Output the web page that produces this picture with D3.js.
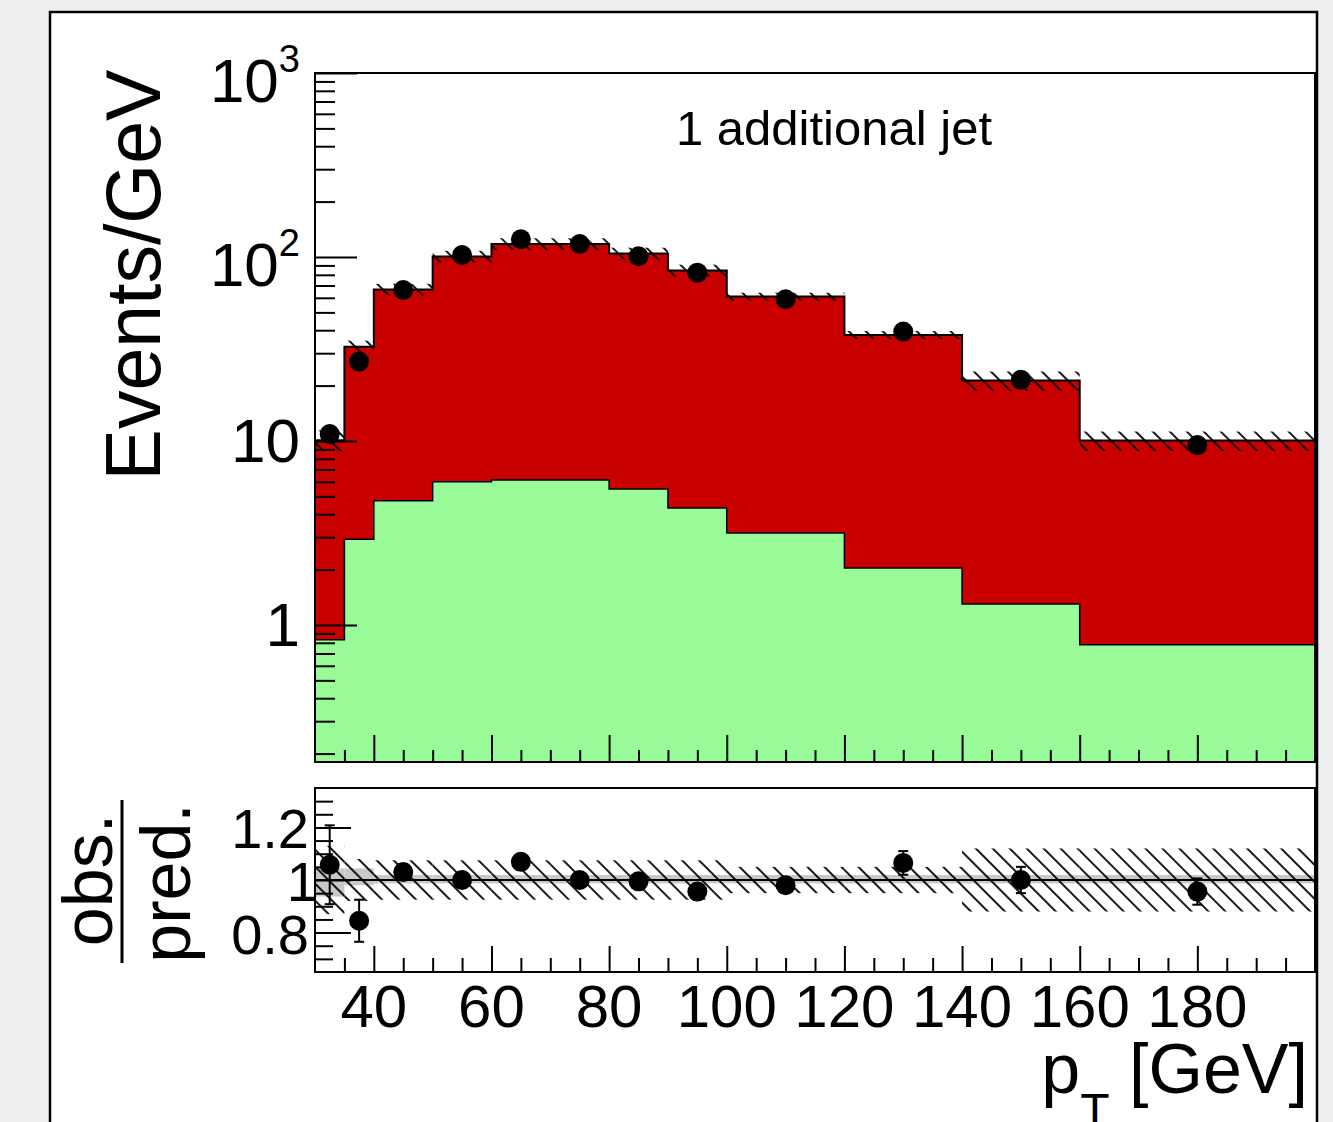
<!DOCTYPE html>
<html><head><meta charset="utf-8">
<script src="https://cdn.jsdelivr.net/npm/d3@7"></script>
<style>
body{margin:0;background:#edeff1;}
svg{display:block;font-family:"Liberation Sans",Arial,Helvetica,sans-serif;}
</style>
</head><body>
<svg id="c" width="1333" height="1122"></svg>
<script>
// ---------------- data ----------------
const binEdges    = [30,35,40,50,60,70,80,90,100,120,140,160,200];
const totalPred   = [10.1,32.5,66.5,100.5,117.6,117.6,104.5,84.5,60.9,37.7,21.3,10.05];
const greenPred   = [0.83,2.92,4.74,6.01,6.14,6.14,5.48,4.32,3.16,2.04,1.30,0.78];
const dataCenters = [32.5,37.5,45,55,65,75,85,95,110,130,150,180];
const dataValues  = [10.9,27.0,66.2,102.5,124.8,117.6,101.0,82.2,58.9,39.3,21.5,9.5];
const ratioValues = [1.058,0.845,1.03,1.0,1.069,1.0,0.995,0.956,0.98,1.065,1.0,0.956];
const ratioErrors = [0.15,0.08,0.03,0.02,0.02,0.02,0.02,0.025,0.025,0.045,0.05,0.05];
const predUnc     = [0.13,0.08,0.075,0.075,0.075,0.075,0.075,0.075,0.05,0.05,0.12,0.12];
const grayLo      = [0.937,0.98,0.987,0.987,0.987,0.987,0.987,0.987,0.987,0.987,0.987,0.987];
const grayHi      = [1.044,1.044,1.019,1.019,1.019,1.019,1.019,1.019,1.019,1.019,1.019,1.019];
const xTickLabels = [40,60,80,100,120,140,160,180];
const yTickLabels = [{v:1000,b:"10",e:"3"},{v:100,b:"10",e:"2"},{v:10,b:"10",e:""},{v:1,b:"1",e:""}];
const ratioTickLabels = [1.2,1,0.8];
const titleText = "1 additional jet";

// ---------------- layout ----------------
const L = 315, R = 1315, T1 = 73, B1 = 762, T2 = 788, B2 = 972;
const svg = d3.select("#c");
const x  = d3.scaleLinear().domain([30,200]).range([L,R]);
const y  = d3.scaleLog().domain([0.18,1000]).range([B1,T1]);
const yr = d3.scaleLinear().domain([0.65,1.35]).range([B2,T2]);

const defs = svg.append("defs");
const pat = defs.append("pattern").attr("id","hatch").attr("patternUnits","userSpaceOnUse")
  .attr("width",12).attr("height",12).attr("patternTransform","rotate(-45)");
pat.append("line").attr("x1",6).attr("y1",-1).attr("x2",6).attr("y2",13)
  .attr("stroke","#000").attr("stroke-width",1.8);
defs.append("clipPath").attr("id","clip1").append("rect").attr("x",L).attr("y",T1).attr("width",R-L).attr("height",B1-T1);
defs.append("clipPath").attr("id","clip2").append("rect").attr("x",L).attr("y",T2).attr("width",R-L).attr("height",B2-T2);

// panel
svg.append("rect").attr("x",50).attr("y",12).attr("width",1267).attr("height",1140)
  .attr("fill","#fff").attr("stroke","#000").attr("stroke-width",2.5);

const bins = totalPred.map((v,i)=>({x0:binEdges[i],x1:binEdges[i+1],tot:v,grn:greenPred[i],unc:predUnc[i],glo:grayLo[i],ghi:grayHi[i]}));

// ---------------- main plot ----------------
const g1 = svg.append("g").attr("clip-path","url(#clip1)");
g1.selectAll("rect.red").data(bins).join("rect").attr("class","red")
  .attr("x",d=>x(d.x0)).attr("width",d=>x(d.x1)-x(d.x0))
  .attr("y",d=>y(d.tot)).attr("height",d=>B1-y(d.tot)).attr("fill","#c80000")
  .attr("shape-rendering","crispEdges");
g1.selectAll("rect.grn").data(bins).join("rect").attr("class","grn")
  .attr("x",d=>x(d.x0)).attr("width",d=>x(d.x1)-x(d.x0))
  .attr("y",d=>y(d.grn)).attr("height",d=>B1-y(d.grn)).attr("fill","#98fb98")
  .attr("shape-rendering","crispEdges");

function stepPts(vals){
  const pts=[[binEdges[0],0.18]];
  vals.forEach((v,i)=>{pts.push([binEdges[i],v]);pts.push([binEdges[i+1],v]);});
  pts.push([binEdges[binEdges.length-1],0.18]);
  return pts;
}
const line1 = d3.line().x(d=>x(d[0])).y(d=>y(d[1]));
g1.append("path").attr("d",line1(stepPts(greenPred))).attr("fill","none").attr("stroke","#000").attr("stroke-width",1.5);
g1.append("path").attr("d",line1(stepPts(totalPred))).attr("fill","none").attr("stroke","#000").attr("stroke-width",2);
// uncertainty hatch
g1.selectAll("rect.unc").data(bins).join("rect").attr("class","unc")
  .attr("x",d=>x(d.x0)).attr("width",d=>x(d.x1)-x(d.x0))
  .attr("y",d=>y(d.tot*(1+d.unc))).attr("height",d=>y(d.tot*(1-d.unc))-y(d.tot*(1+d.unc)))
  .attr("fill","url(#hatch)");
// data points
g1.selectAll("circle").data(dataCenters).join("circle")
  .attr("cx",d=>x(d)).attr("cy",(d,i)=>y(dataValues[i])).attr("r",10).attr("fill","#000");

// frame
svg.append("rect").attr("x",L).attr("y",T1).attr("width",R-L).attr("height",B1-T1)
  .attr("fill","none").attr("stroke","#000").attr("stroke-width",2);

function styleAxis(g){ g.select(".domain").remove(); g.selectAll(".tick line").attr("stroke","#000").attr("stroke-width",2); g.selectAll(".tick text").remove(); }

const xMajor = xTickLabels;
const xMinor = d3.range(35,200,5).filter(v=>!xMajor.includes(v));
svg.append("g").attr("transform",`translate(0,${B1})`).call(d3.axisTop(x).tickValues(xMajor).tickSize(27).tickFormat("")).call(styleAxis);
svg.append("g").attr("transform",`translate(0,${B1})`).call(d3.axisTop(x).tickValues(xMinor).tickSize(12).tickFormat("")).call(styleAxis);

const yMajor = yTickLabels.map(d=>d.v);
const yMinor = y.ticks().filter(v=>!yMajor.some(m=>Math.abs(m-v)<1e-9));
svg.append("g").attr("transform",`translate(${L},0)`).call(d3.axisRight(y).tickValues(yMajor).tickSize(42).tickFormat("")).call(styleAxis);
svg.append("g").attr("transform",`translate(${L},0)`).call(d3.axisRight(y).tickValues(yMinor).tickSize(20).tickFormat("")).call(styleAxis);

// y labels
yTickLabels.forEach(d=>{
  const t = svg.append("text").attr("x",300).attr("y",y(d.v)+(d.e?29:21))
    .attr("text-anchor","end").attr("font-size",62).text(d.b);
  if(d.e) t.append("tspan").attr("font-size",38).attr("dy",-30).text(d.e);
});

svg.append("text").attr("x",834).attr("y",145).attr("text-anchor","middle").attr("font-size",49).text(titleText);

svg.append("text").attr("transform","translate(160,275) rotate(-90)").attr("text-anchor","middle")
  .attr("font-size",77).text("Events/GeV");

// ---------------- ratio plot ----------------
const g2 = svg.append("g").attr("clip-path","url(#clip2)");
g2.selectAll("rect.gray").data(bins).join("rect").attr("class","gray")
  .attr("x",d=>x(d.x0)).attr("width",d=>x(d.x1)-x(d.x0))
  .attr("y",d=>yr(d.ghi)).attr("height",d=>yr(d.glo)-yr(d.ghi)).attr("fill","#c8c8c8");
g2.selectAll("rect.unc").data(bins).join("rect").attr("class","unc")
  .attr("x",d=>x(d.x0)).attr("width",d=>x(d.x1)-x(d.x0))
  .attr("y",d=>yr(1+d.unc)).attr("height",d=>yr(1-d.unc)-yr(1+d.unc)).attr("fill","url(#hatch)");
g2.append("line").attr("x1",L).attr("x2",R).attr("y1",yr(1)).attr("y2",yr(1)).attr("stroke","#000").attr("stroke-width",2);
// error bars
const eb = g2.selectAll("g.eb").data(dataCenters).join("g").attr("class","eb");
eb.append("line").attr("x1",d=>x(d)).attr("x2",d=>x(d))
  .attr("y1",(d,i)=>yr(ratioValues[i]+ratioErrors[i])).attr("y2",(d,i)=>yr(ratioValues[i]-ratioErrors[i]))
  .attr("stroke","#000").attr("stroke-width",2);
[1,-1].forEach(s=>{
  eb.append("line").attr("x1",d=>x(d)-5).attr("x2",d=>x(d)+5)
    .attr("y1",(d,i)=>yr(ratioValues[i]+s*ratioErrors[i])).attr("y2",(d,i)=>yr(ratioValues[i]+s*ratioErrors[i]))
    .attr("stroke","#000").attr("stroke-width",2);
});
g2.selectAll("circle").data(dataCenters).join("circle")
  .attr("cx",d=>x(d)).attr("cy",(d,i)=>yr(ratioValues[i])).attr("r",10).attr("fill","#000");

svg.append("rect").attr("x",L).attr("y",T2).attr("width",R-L).attr("height",B2-T2)
  .attr("fill","none").attr("stroke","#000").attr("stroke-width",2);

svg.append("g").attr("transform",`translate(0,${B2})`).call(d3.axisTop(x).tickValues(xMajor).tickSize(26).tickFormat("")).call(styleAxis);
svg.append("g").attr("transform",`translate(0,${B2})`).call(d3.axisTop(x).tickValues(xMinor).tickSize(14).tickFormat("")).call(styleAxis);
const rMinor = d3.range(0.7,1.3001,0.05).filter(v=>!ratioTickLabels.some(m=>Math.abs(m-v)<1e-6));
svg.append("g").attr("transform",`translate(${L},0)`).call(d3.axisRight(yr).tickValues(ratioTickLabels).tickSize(36).tickFormat("")).call(styleAxis);
svg.append("g").attr("transform",`translate(${L},0)`).call(d3.axisRight(yr).tickValues(rMinor).tickSize(18).tickFormat("")).call(styleAxis);

ratioTickLabels.forEach(v=>{
  svg.append("text").attr("x",v===1?318:309).attr("y",yr(v)+21).attr("text-anchor","end")
    .attr("font-size",56).text(v===1?"1":d3.format(".1f")(v));
});

// x tick labels
xTickLabels.forEach(v=>{
  svg.append("text").attr("x",x(v)).attr("y",1027).attr("text-anchor","middle").attr("font-size",60).text(v);
});

// x title
const xt = svg.append("text").attr("x",1308).attr("y",1093).attr("text-anchor","end").attr("font-size",70);
xt.append("tspan").text("p");
xt.append("tspan").attr("font-size",48).attr("dy",34).text("T");
xt.append("tspan").attr("dy",-34).text(" [GeV]");

// ratio y title
svg.append("text").attr("transform","translate(112,880) rotate(-90)").attr("text-anchor","middle").attr("font-size",70).text("obs.");
svg.append("line").attr("x1",122).attr("x2",122).attr("y1",800).attr("y2",963).attr("stroke","#000").attr("stroke-width",3);
svg.append("text").attr("transform","translate(190,883) rotate(-90)").attr("text-anchor","middle").attr("font-size",70).text("pred.");
</script>
</body></html>
